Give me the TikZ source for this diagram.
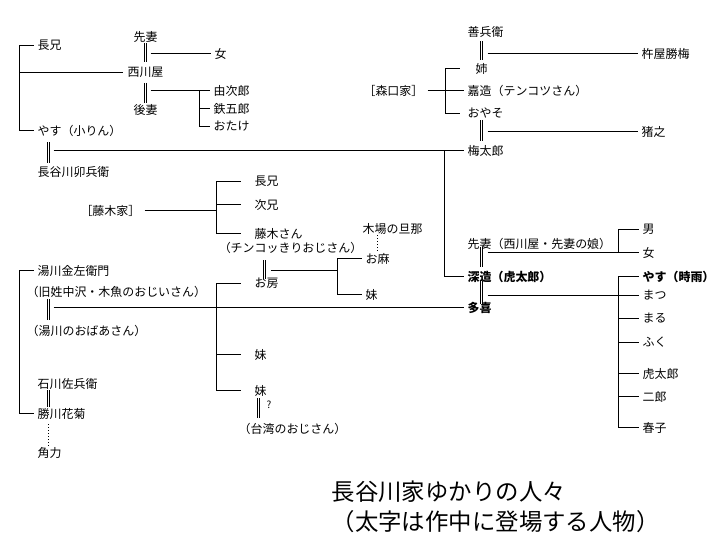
\documentclass[tikz,border=0pt]{standalone}
\usepackage{fontspec}
\setmainfont{Noto Sans CJK JP}
\usetikzlibrary{calc}
\begin{document}
\begin{tikzpicture}[x=1bp,y=-1bp,
  lbl/.style={anchor=west,inner xsep=4pt,inner ysep=1pt,font=\fontsize{12}{14}\selectfont},
  far/.style={lbl,inner xsep=14pt},
  ctr/.style={lbl,anchor=center},
  bld/.style={lbl,font=\fontsize{12}{14}\selectfont\bfseries},
  ln/.style={line width=1bp},
  dbl/.style={double,double distance=1.1bp,line width=0.95bp},
  dots/.style={line width=1bp,dash pattern=on 1bp off 2bp}]
\fill[white] (0,0) rectangle (720,540);
\path[use as bounding box] (0,0) rectangle (720,540);
\begin{scope}[shift={(0.5,0.5)}]
% ---------- nodes: upper left ----------
\node[lbl] (chokeiA) at (33,45) {長兄};
\node[lbl] (yasuA) at (33,130) {やす（小りん）};
\node[ctr] (senA) at (145,36) {先妻};
\node[ctr] (nishi) at (145,72) {西川屋};
\node[ctr] (gosai) at (145,109) {後妻};
\node[lbl] (onnaA) at (210,53) {女};
\node[lbl] (yuji) at (209,90) {由次郎};
\node[lbl] (tetsu) at (209,108) {鉄五郎};
\node[lbl] (otake) at (209,126) {おたけ};
\node[lbl] (uhei) at (33,172) {長谷川卯兵衛};

% ---------- nodes: upper right ----------
\node[lbl] (zen) at (463,31) {善兵衛};
\node[lbl] (kine) at (637,53) {杵屋勝梅};
\node[lbl,inner xsep=16pt] (ane) at (459,68) {姉};
\node[lbl,anchor=east] (mori) at (427,90) {［森口家］};
\node[lbl] (kazo) at (463,90) {嘉造（テンコツさん）};
\node[lbl] (oyaso) at (463,113) {おやそ};
\node[lbl] (ino) at (637,131) {猪之};
\node[lbl] (ume) at (463,150) {梅太郎};

% ---------- nodes: middle ----------
\node[lbl,anchor=east] (fujike) at (144,210) {［藤木家］};
\node[far] (chokeiB) at (240,181) {長兄};
\node[far] (jikei) at (240,204) {次兄};
\node[far] (fujiki) at (240,233) {藤木さん};
\node[ctr] (chinko) at (290,247) {（チンコッきりおじさん）};
\node[lbl] (kiba) at (358,228) {木場の旦那};
\node[lbl] (oasa) at (361,258) {お麻};
\node[lbl] (imoA) at (361,294) {妹};
\node[far] (ofusa) at (240,283) {お房};
\node[far] (imoB) at (240,354) {妹};
\node[far] (imoC) at (240,390) {妹};
\node[lbl,font=\fontsize{10}{11}\selectfont] (q) at (262,404) {?};
\node[ctr] (taiwan) at (292,428) {（台湾のおじさん）};

% ---------- nodes: lower left ----------
\node[lbl] (yukawa) at (33,270) {湯川金左衛門};
\node[lbl,inner xsep=0pt] (kyu) at (26,291) {（旧姓中沢・木魚のおじいさん）};
\node[lbl,inner xsep=0pt] (oba) at (26,330) {（湯川のおばあさん）};
\node[lbl] (ishi) at (33,383) {石川佐兵衛};
\node[lbl] (katsu) at (33,413) {勝川花菊};
\node[lbl] (sumo) at (33,452) {角力};

% ---------- nodes: lower right ----------
\node[lbl] (senB) at (463,243) {先妻（西川屋・先妻の娘）};
\node[bld] (shinzo) at (463,276) {深造（虎太郎）};
\node[bld] (taki) at (463,307) {多喜};
\node[lbl] (otoko) at (638,229) {男};
\node[lbl] (onnaB) at (638,252) {女};
\node[bld] (yasuB) at (638,276) {やす（時雨）};
\node[lbl] (matsu) at (638,295) {まつ};
\node[lbl] (maru) at (638,318) {まる};
\node[lbl] (fuku) at (638,342) {ふく};
\node[lbl] (kotaro) at (638,373) {虎太郎};
\node[lbl] (jiro) at (638,396) {二郎};
\node[lbl] (haruko) at (638,427) {春子};

% ---------- title ----------
\node[anchor=west,inner sep=0pt,font=\fontsize{23.5}{28}\selectfont] (t1) at (331,491) {長谷川家ゆかりの人々};
\node[anchor=west,inner sep=0pt,font=\fontsize{23.5}{28}\selectfont] (t2) at (331,521) {（太字は作中に登場する人物）};

% ---------- junctions ----------
\coordinate (jA) at (19,72);
\coordinate (jB) at (199,90);
\coordinate (jC) at (444,150);
\coordinate (jD) at (445,90);
\coordinate (jE) at (216,210);
\coordinate (jF) at (337,270);
\coordinate (jI) at (618,252);
\coordinate (jJ) at (618,295);

% ---------- upper left ----------
\draw[ln] (chokeiA.west) -| (jA) |- (yasuA.west);
\draw[ln] (jA) -- (nishi.west);
\draw[dbl,shorten >=4pt] (145,0 |- senA.south) -- (145,0 |- nishi.north);
\draw[ln] (150,0 |- onnaA.west) -- (onnaA.west);
\draw[dbl,shorten <=4pt] (145,0 |- nishi.south) -- (145,0 |- gosai.north);
\draw[ln] (150,0 |- jB) -- (yuji.west);
\draw[ln] (otake.west) -| (jB);
\draw[ln] (tetsu.west) -- (tetsu.west -| jB);
\draw[dbl,shorten <=5pt,shorten >=3pt] (48,0 |- yasuA.south) -- (48,0 |- uhei.north);
\draw[ln] (53,0 |- jC) -- (ume.west);
\draw[ln] (jC) |- (shinzo.west);

% ---------- upper right ----------
\draw[dbl,shorten <=3pt,shorten >=2pt] (481,0 |- zen.south) -- (481,0 |- ane.north);
\draw[ln] (487,0 |- kine.west) -- (kine.west);
\draw[ln] (mori.east) -- (kazo.west);
\draw[ln] (ane.west) -| (jD) |- ([xshift=-4pt]oyaso.west);
\draw[dbl,shorten >=3pt] (481,0 |- oyaso.south) -- (481,0 |- ume.north);
\draw[ln] (487,0 |- ino.west) -- (ino.west);

% ---------- middle ----------
\draw[ln] (fujike.east) -- (jE);
\draw[ln] (chokeiB.west) -| (jE) |- (fujiki.west);
\draw[ln] (jikei.west) -- (jikei.west -| jE);
\draw[dbl,shorten <=6pt,shorten >=-2pt] (264,0 |- chinko.south) -- (264,0 |- ofusa.north);
\draw[ln] (270,0 |- jF) -- (jF);
\draw[ln] (oasa.west) -| (jF) |- (imoA.west);
\draw[dots] (377,0 |- kiba.south) -- (377,0 |- oasa.north);
\draw[ln] (ofusa.west) -- (ofusa.west -| jE) |- (imoC.west);
\draw[ln] (imoB.west) -- (imoB.west -| jE);
\draw[dbl,shorten <=1pt,shorten >=4pt] (258,0 |- imoC.south) -- (258,0 |- taiwan.north);

% ---------- lower left ----------
\draw[ln] (yukawa.west) -| (jA |- katsu.west) -- (katsu.west);
\draw[dbl,shorten <=1pt,shorten >=4pt] (48,0 |- kyu.south) -- (48,0 |- oba.north);
\draw[ln] (53,0 |- taki.west) -- (taki.west);
\draw[dbl] (48,0 |- ishi.south) -- (48,0 |- katsu.north);
\draw[dots,shorten <=4pt] (48,0 |- katsu.south) -- (48,0 |- sumo.north);

% ---------- lower right ----------
\draw[dbl,shorten <=-3pt,shorten >=3pt] (481,0 |- senB.south) -- (481,0 |- shinzo.north);
\draw[ln] (487,0 |- jI) -- (onnaB.west);
\draw[ln] (otoko.west) -| (jI);
\draw[dbl,shorten <=-2pt,shorten >=-3pt] (481,0 |- shinzo.south) -- (481,0 |- taki.north);
\draw[ln] (487,0 |- jJ) -- (matsu.west);
\draw[ln] (yasuB.west) -| (jJ) |- (haruko.west);
\draw[ln] (maru.west) -- (maru.west -| jJ);
\draw[ln] (fuku.west) -- (fuku.west -| jJ);
\draw[ln] (kotaro.west) -- (kotaro.west -| jJ);
\draw[ln] (jiro.west) -- (jiro.west -| jJ);
\end{scope}
\end{tikzpicture}
\end{document}
